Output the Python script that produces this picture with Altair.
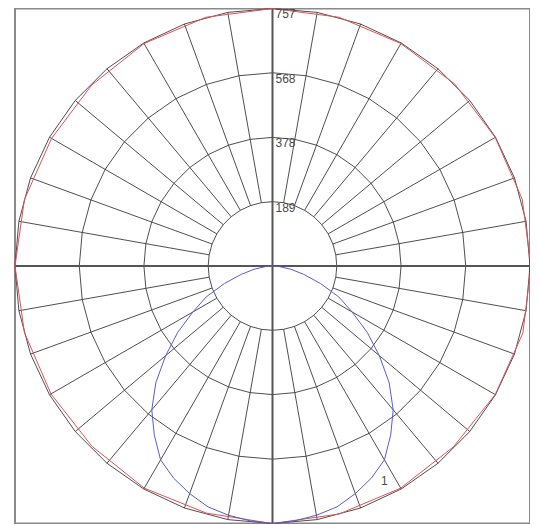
import altair as alt
import pandas as pd

# ---- data ----
ring_values = [189, 378, 568, 757]
ring_labels = ["189", "378", "568", "757"]
ring_angles = list(range(0, 361, 10))
spoke_angles = [a for a in range(10, 360, 10) if a % 90 != 0]
axis_angles = [0, 90]

# red curve (angle clockwise from top, value)
red_angles = list(range(0, 361, 15))
red_values = [757, 757, 755, 757, 756, 760, 760, 762, 756, 752, 754, 755, 757,
              752, 754, 750, 752, 755, 757, 755, 750, 752, 755, 757, 757]

# blue curve (lower half)
blue_angles = list(range(90, 271, 5))
blue_values = [0, 20, 55, 95, 150, 215, 270, 340, 410, 485, 552, 606, 658, 688,
               712, 733, 744, 752, 757, 752, 744, 733, 712, 688, 658, 606, 552,
               485, 410, 340, 270, 215, 150, 95, 55, 20, 0]

curve_label = ["1"]
curve_label_angle = [152.5]
curve_label_value = [712]

R = 757
D2R = "PI/180"

rings = pd.DataFrame([{"ring": v, "a": a} for v in ring_values for a in ring_angles])
spokes = pd.DataFrame({"a": spoke_angles})
axes_df = pd.DataFrame({"a": axis_angles})
red = pd.DataFrame({"a": red_angles, "v": red_values})
blue = pd.DataFrame({"a": blue_angles, "v": blue_values})
labels = pd.DataFrame({"v": ring_values, "t": ring_labels})
lab1 = pd.DataFrame({"t": curve_label, "a": curve_label_angle, "v": curve_label_value})

xs = alt.Scale(domain=[-R, R], nice=False)
ys = alt.Scale(domain=[-R, R], nice=False)
X = lambda f: alt.X(f, type="quantitative", scale=xs, axis=None)
Y = lambda f: alt.Y(f, type="quantitative", scale=ys, axis=None)

grid_color = "#3a3a3a"

spoke_layer = alt.Chart(spokes).transform_calculate(
    x1=f"189*sin(datum.a*{D2R})", y1=f"189*cos(datum.a*{D2R})",
    x2=f"757*sin(datum.a*{D2R})", y2=f"757*cos(datum.a*{D2R})",
).mark_rule(color=grid_color, strokeWidth=0.9).encode(
    x=X("x1"), y=Y("y1"), x2="x2:Q", y2="y2:Q"
)

ring_layer = alt.Chart(rings).transform_calculate(
    x=f"datum.ring*sin(datum.a*{D2R})", y=f"datum.ring*cos(datum.a*{D2R})"
).mark_line(color=grid_color, strokeWidth=0.9).encode(
    x=X("x"), y=Y("y"), detail="ring:N", order="a:Q"
)

axis_layer = alt.Chart(axes_df).transform_calculate(
    x1=f"-757*sin(datum.a*{D2R})", y1=f"-757*cos(datum.a*{D2R})",
    x2=f"757*sin(datum.a*{D2R})", y2=f"757*cos(datum.a*{D2R})",
).mark_rule(color="#555555", strokeWidth=2).encode(
    x=X("x1"), y=Y("y1"), x2="x2:Q", y2="y2:Q"
)

red_layer = alt.Chart(red).transform_calculate(
    x=f"datum.v*sin(datum.a*{D2R})", y=f"datum.v*cos(datum.a*{D2R})"
).mark_line(color="#e0505a", strokeWidth=1).encode(
    x=X("x"), y=Y("y"), order="a:Q"
)

blue_layer = alt.Chart(blue).transform_calculate(
    x=f"datum.v*sin(datum.a*{D2R})", y=f"datum.v*cos(datum.a*{D2R})"
).mark_line(color="#5a5acd", strokeWidth=1).encode(
    x=X("x"), y=Y("y"), order="a:Q"
)

label_layer = alt.Chart(labels).transform_calculate(x="0").mark_text(
    align="left", baseline="top", dx=3, dy=1, fontSize=12,
    font="Liberation Sans", color="#4a4a4a"
).encode(x=X("x"), y=Y("v"), text="t:N")

lab1_layer = alt.Chart(lab1).transform_calculate(
    x=f"datum.v*sin(datum.a*{D2R})", y=f"datum.v*cos(datum.a*{D2R})"
).mark_text(fontSize=12, font="Liberation Sans", color="#4a4a4a").encode(
    x=X("x"), y=Y("y"), text="t:N"
)

chart = alt.layer(
    spoke_layer, ring_layer, axis_layer, red_layer, blue_layer, label_layer, lab1_layer
).properties(
    width=516, height=516,
    padding={"left": 7, "top": 0, "right": 0, "bottom": 0},
    autosize="none",
    background="white",
).configure_view(stroke="#8a8a8a", strokeWidth=2)

chart.save("out.html", embed_options={"renderer": "svg", "actions": False})
